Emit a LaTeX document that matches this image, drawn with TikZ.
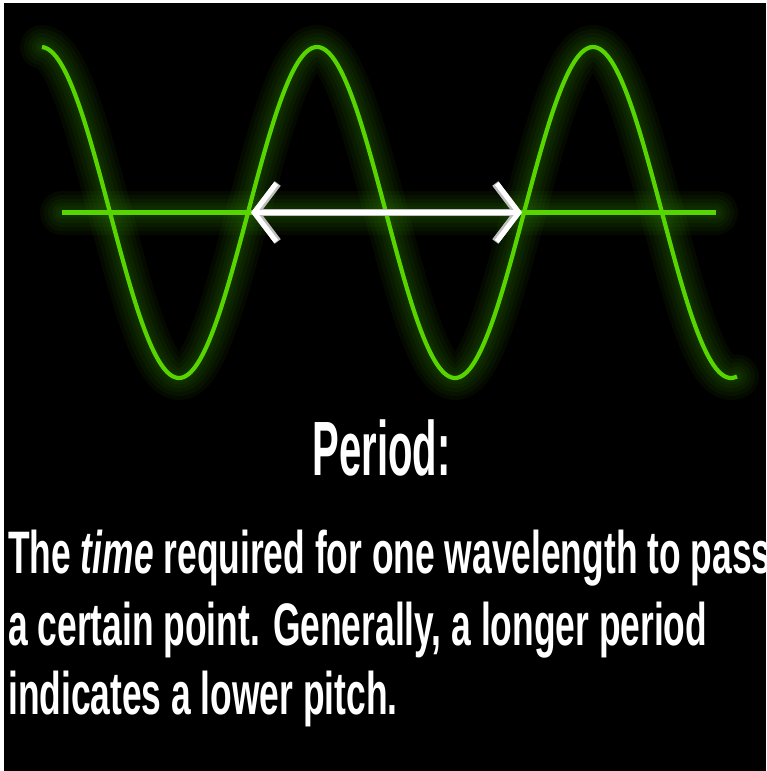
\documentclass[tikz,border=0pt]{standalone}
\usepackage{fontspec}
\setmainfont{Liberation Sans}
\usetikzlibrary{arrows.meta}
\definecolor{wavegreen}{RGB}{88,212,0}
\definecolor{glowgreen}{RGB}{45,120,0}
\begin{document}
\begin{tikzpicture}[x=1pt,y=-1pt,
  glowline/.style={draw=glowgreen, line width=#1, opacity=0.09, line cap=round, line join=round},
  waveline/.style={draw=wavegreen, line width=4.2},
  axisline/.style={draw=wavegreen, line width=5},
  arrowtips/.style={{Straight Barb[length=22pt,width=58pt]}-{Straight Barb[length=22pt,width=58pt]}},
  bodytext/.style={text=white, anchor=base west, inner sep=0pt, font=\fontsize{60}{70}\selectfont\bfseries},
  titletext/.style={text=white, anchor=base, inner sep=0pt, font=\fontsize{77}{80}\selectfont\bfseries}]
\useasboundingbox (0,0) rectangle (766,771);
\fill[white] (0,0) rectangle (766,771);
\fill[black] (4,3) rectangle (766,771);
\clip (4,3) rectangle (766,771);
% glow
\foreach \w in {44,36,28,20,13,8} {
  \draw[glowline=\w] plot[domain=42:737, samples=300] (\x,{212.5-165.5*cos(1.304348*(\x-41))});
  \draw[glowline=\w] (62,212.5) -- (716,212.5);
}
% axis
\coordinate (A1) at (62,212.5);
\coordinate (A2) at (716,212.5);
\draw[axisline] (A1) -- (A2);
% wave
\draw[waveline] plot[domain=42:737, samples=300] (\x,{212.5-165.5*cos(1.304348*(\x-41))});
% arrow
\coordinate (L) at (251,212.5);
\coordinate (R) at (522,212.5);
\draw[gray!50, line width=7.5, arrowtips] (L) -- (R);
\draw[white, line width=5, arrowtips] (L) -- (R);
% text
\node[titletext] (title) at (381.5,475) {\scalebox{0.52}[1]{Period:}};
\node[bodytext] (l1) at (8,573) {\scalebox{0.59}[1]{The \textit{time} required for one wavelength to pass}};
\node[bodytext] (l2) at (8,645) {\scalebox{0.59}[1]{a certain point. Generally, a longer period}};
\node[bodytext] (l3) at (8,714) {\scalebox{0.59}[1]{indicates a lower pitch.}};
\end{tikzpicture}
\end{document}
